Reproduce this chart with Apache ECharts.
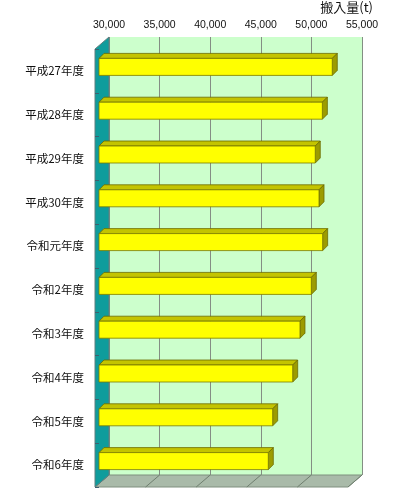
<!DOCTYPE html>
<html>
<head>
<meta charset="utf-8">
<script src="https://cdn.jsdelivr.net/npm/echarts@6/dist/echarts.min.js"></script>
<style>
  html, body { margin: 0; padding: 0; background: #fff; }
  #container { width: 400px; height: 498px; }
</style>
</head>
<body>
<div id="container"></div>
<script>
// 年度ごとの搬入量
var categories = ['平成27年度', '平成28年度', '平成29年度', '平成30年度', '令和元年度',
                  '令和2年度', '令和3年度', '令和4年度', '令和5年度', '令和6年度'];
var amounts = [53050, 52070, 51370, 51740, 52100, 50980, 49860, 49140, 47160, 46730];
var xTicks = [30000, 35000, 40000, 45000, 50000, 55000];
var unitLabel = '搬入量(t)';

var DX = 14, DY = 12;        // 奥行き (壁)
var BX = 4, BY = 4;          // 棒の前面位置
var BDX = 5, BDY = 5;        // 棒の奥行き
var BAR_H = 17;

var dom = document.getElementById('container');
var myChart = echarts.init(dom);

function getBarData() {
	var arr = [];
	for (var i = 0; i < amounts.length; i++) {
		arr.push([amounts[i], i]);
	}
	return arr;
}

function renderFrame(params, api) {
	var cs = params.coordSys;
	var left = cs.x, top = cs.y, bottom = cs.y + cs.height, right = cs.x + cs.width;
	var children = [];
	// 床
	children.push({
		type: 'polygon',
		shape: { points: [[left, bottom], [right, bottom], [right + DX, bottom - DY], [left + DX, bottom - DY]] },
		style: { fill: '#a9baa9', stroke: '#7f8f7f', lineWidth: 1 }
	});
	for (var i = 0; i < xTicks.length; i++) {
		var x = api.coord([xTicks[i], 0])[0];
		children.push({
			type: 'line',
			shape: { x1: x, y1: bottom, x2: x + DX, y2: bottom - DY },
			style: { stroke: '#6f7f6f', lineWidth: 1 }
		});
	}
	// 左の壁
	children.push({
		type: 'polygon',
		shape: { points: [[left, top], [left, bottom], [left + DX, bottom - DY], [left + DX, top - DY]] },
		style: { fill: '#0f9c9c', stroke: '#5f7f7f', lineWidth: 1 }
	});
	return { type: 'group', children: children };
}

function renderBar(params, api) {
	var end = api.coord([api.value(0), api.value(1)]);
	var start = api.coord([30000, api.value(1)]);
	var x0 = start[0] + BX, x1 = end[0] + BX;
	var yT = end[1] - BY - BAR_H / 2, yB = yT + BAR_H;
	return {
		type: 'group',
		children: [
			{
				type: 'polygon',
				shape: { points: [[x0, yT], [x1, yT], [x1 + BDX, yT - BDY], [x0 + BDX, yT - BDY]] },
				style: { fill: '#c4c400', stroke: '#6b6b00', lineWidth: 0.8 }
			},
			{
				type: 'polygon',
				shape: { points: [[x1, yT], [x1 + BDX, yT - BDY], [x1 + BDX, yB - BDY], [x1, yB]] },
				style: { fill: '#9c9c00', stroke: '#6b6b00', lineWidth: 0.8 }
			},
			{
				type: 'rect',
				shape: { x: x0, y: yT, width: x1 - x0, height: BAR_H },
				style: { fill: '#ffff00', stroke: '#7a7a00', lineWidth: 0.8 }
			}
		]
	};
}

option = {
	animation: false,
	title: {
		text: unitLabel,
		right: 27,
		top: 1,
		padding: 0,
		textStyle: { fontSize: 13, fontWeight: 'normal', color: '#111', fontFamily: 'Noto Sans CJK JP' }
	},
	grid: [
		{ left: 109, right: 38, top: 37, bottom: 23, show: true, backgroundColor: '#ccffcc', borderWidth: 0 },
		{ left: 95, right: 52, top: 49, bottom: 11 }
	],
	xAxis: [
		{
			gridIndex: 0, type: 'value', position: 'top',
			min: 30000, max: 55000, interval: 5000,
			axisLine: { show: false }, axisTick: { show: false },
			axisLabel: {
				margin: 6, fontSize: 10.5, color: '#111', fontFamily: 'Liberation Sans',
				formatter: function (v) { return v.toLocaleString('en-US'); }
			},
			splitLine: { show: true, lineStyle: { color: '#848e84', width: 1 } }
		},
		{
			gridIndex: 1, type: 'value', min: 30000, max: 55000, interval: 5000,
			show: false
		}
	],
	yAxis: [
		{
			gridIndex: 0, type: 'category', data: categories, inverse: true, show: false
		},
		{
			gridIndex: 1, type: 'category', data: categories, inverse: true,
			axisLine: { show: false },
			axisTick: { show: true, inside: true, length: 4, lineStyle: { color: '#3f5f6f' } },
			axisLabel: { margin: 11, fontSize: 11.5, color: '#111', fontFamily: 'Noto Sans CJK JP' },
			z: 10
		}
	],
	series: [
		{
			type: 'custom',
			xAxisIndex: 1, yAxisIndex: 1,
			renderItem: renderFrame,
			data: [[30000, 0]],
			silent: true,
			z: 1
		},
		{
			name: '搬入量',
			type: 'custom',
			xAxisIndex: 1, yAxisIndex: 1,
			renderItem: renderBar,
			encode: { x: 0, y: 1 },
			data: getBarData(),
			z: 3
		}
	]
};

if (option && typeof option === 'object') {
	myChart.setOption(option, true);
}
</script>
</body>
</html>
